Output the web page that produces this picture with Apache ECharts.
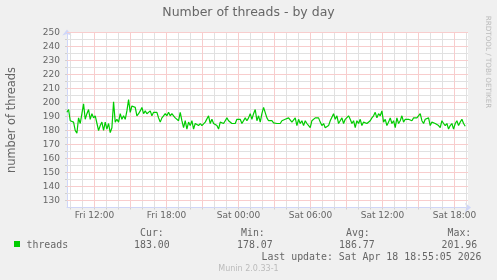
<!DOCTYPE html>
<html><head><meta charset="utf-8">
<script src="https://cdn.jsdelivr.net/npm/echarts@6/dist/echarts.min.js"></script>
<style>html,body{margin:0;padding:0;background:#F0F0F0;}#c{width:497px;height:280px;}</style>
</head><body><div id="c"></div>
<script>
// ---- data ----
const chartTitle = 'Number of threads - by day';
const yAxisName = 'number of threads';
const seriesName = 'threads';
const startMinute = 582;          // Fri 09:42 (minutes since Fri 00:00)
const stepMinutes = 25 / 3;       // spacing of the readings
const axisStartMinute = 582.5;    // left edge of the day graph
const spanMinutes = 2005;         // width of the day graph
const threads = [
  193,195,187,188,186,180,178,189,185,192,
  199,188,192,195,188,192,189,190.5,190.5,180,
  183.5,186,180,186,181,185,178.5,182,200.5,186,
  188,186,192,188,190.5,188,194,202,193,197.5,
  196.5,196.5,190.5,192,194,196.5,192,194,192,193,
  194,190.5,193,192,193,189,186,189,190.5,192,
  190.5,193,190.5,192,190.5,189,188,187,193,187,
  182,187,181,186,183.5,187,181,185,186,183.5,
  185,183.5,183.5,186,187,190.5,185,188,185,186,
  183.5,181,186,185,185,187,189,187,188,185,
  186,185,188,189,188,185,186,189,187,189,
  192,188,192,195,187,190.5,186,192,196.5,197.5,
  189,187,186,187,185.5,186,185,186,185,187,
  186,188,187,189,188,186,185,189,183.5,188,
  185,187,183.5,187,185,186,182,187,186,189,
  188,189,186,183.5,185,182,181,183.5,187,186,
  192,188,190.5,185,187,189,185,188,189,190.5,
  188,185,187,182,187,185,188,183.5,186,187,
  185,186,187,189,190.5,193,189,192,190.5,194,
  186,188,183.5,186,189,185,187,182,189,185,
  187,190.5,186,188,189,188,189,187,189,188,
  189,188,192,187,185,188,187,189,183.5,186,
  187,185,186,183.5,182,187,185,183.5,185,181,
  183.5,185,181,185,187,183.5,186,188,185,183
];
const yMin = 125, yMax = 250;
const yLabelTicks = [130,140,150,160,170,180,190,200,210,220,230,240,250];
const yMinorTicks = [135,145,155,165,175,185,195,205,215,225,235,245];
const xLabelTicks = ['Fri 12:00','Fri 18:00','Sat 00:00','Sat 06:00','Sat 12:00','Sat 18:00'];
const legendHeads = ['Cur:','Min:','Avg:','Max:'];
const legendValues = ['183.00','178.07','186.77','201.96'];
const lastUpdate = 'Last update: Sat Apr 18 18:55:05 2026';
const footer = 'Munin 2.0.33-1';
const watermark = 'RRDTOOL / TOBI OETIKER';

// ---- build ----
const dayIdx = {Fri:0, Sat:1};
function parseTick(s){ const [d,hm]=s.split(' '); const [h,m]=hm.split(':').map(Number); return dayIdx[d]*1440+h*60+m; }
const xMin = axisStartMinute, xMax = axisStartMinute + spanMinutes;
const hourTicks = [];
for (let m = Math.ceil(xMin/60)*60; m <= xMax; m += 60) hourTicks.push(m);
const xMinor = hourTicks.filter(m => m % 180 !== 0);
const xMajor = hourTicks.filter(m => m % 180 === 0);
const xLabelVals = xLabelTicks.map(parseTick);
const seriesData = threads.map((v,i) => [startMinute + i*stepMinutes, v]);

const GRID = '#E1E1E1';
const MGRID = '#F8CDCD';
const AXIS = '#CFD6F8';
const FONT = '#666666';
const SANS = 'DejaVu Sans';
const MONO = 'DejaVu Sans Mono';

const minorLines = [], majorLines = [];
xMinor.forEach(m => minorLines.push({xAxis:m}));
yMinorTicks.forEach(v => minorLines.push({yAxis:v}));
xMajor.forEach(m => majorLines.push({xAxis:m}));
yLabelTicks.forEach(v => majorLines.push({yAxis:v}));

const baseX = {type:'value', min:xMin, max:xMax, position:'bottom', gridIndex:0};
const baseY = {type:'value', min:yMin, max:yMax, position:'left', gridIndex:0};

const chart = echarts.init(document.getElementById('c'), null, {renderer:'canvas'});
const legendCols = [140, 241, 346, 447.5];
const valueCols = [134, 237, 339, 441.5];
const graphics = [
  {type:'text', left:'center', top:6, style:{text:chartTitle, font:'12.5px "'+SANS+'"', fill:FONT}},
  {type:'text', x:12, y:120, rotation:Math.PI/2, style:{text:yAxisName, font:'11.4px "'+SANS+'"', fill:FONT, align:'center', verticalAlign:'middle'}},
  {type:'text', x:488, y:62, rotation:-Math.PI/2, style:{text:watermark, font:'7.2px "'+SANS+'"', fill:'#bbbbbb', align:'center', verticalAlign:'middle'}},
  {type:'rect', shape:{x:14, y:241, width:6, height:6}, style:{fill:'#00CC00'}},
  {type:'text', x:26.5, y:245, style:{text:seriesName, font:'9.9px "'+MONO+'"', fill:FONT, verticalAlign:'middle'}},
  {type:'text', x:261.5, y:257.5, style:{text:lastUpdate, font:'9.9px "'+MONO+'"', fill:FONT, verticalAlign:'middle'}},
  {type:'text', x:248.5, y:269, style:{text:footer, font:'8px "'+SANS+'"', fill:'#bbbbbb', align:'center', verticalAlign:'middle'}}
];
legendHeads.forEach((h,i)=>graphics.push({type:'text', x:legendCols[i], y:233.5, style:{text:h, font:'9.9px "'+MONO+'"', fill:FONT, verticalAlign:'middle'}}));
legendValues.forEach((v,i)=>graphics.push({type:'text', x:valueCols[i], y:245, style:{text:v, font:'9.9px "'+MONO+'"', fill:FONT, verticalAlign:'middle'}}));

const markCommon = {silent:true, symbol:['none','none'], label:{show:false}, animation:false, emphasis:{disabled:true}};

chart.setOption({
  backgroundColor:'#F0F0F0',
  animation:false,
  grid:{left:67, top:32.5, width:401, height:175, show:true, backgroundColor:'#FFFFFF', borderWidth:0},
  xAxis:[
    Object.assign({}, baseX, {
      axisLine:{show:true, lineStyle:{color:AXIS, width:1}, symbol:['none','arrow'], symbolSize:[7,6], symbolOffset:[0,3]},
      axisTick:{show:true, customValues:hourTicks, length:2, lineStyle:{color:'#D0D0D0'}},
      axisLabel:{show:true, customValues:xLabelVals, margin:4, color:FONT, fontSize:9, fontFamily:SANS,
        formatter:(v)=>{ const i = xLabelVals.indexOf(v); return i>=0 ? xLabelTicks[i] : ''; }},
      splitLine:{show:false}
    })
  ],
  yAxis:[
    Object.assign({}, baseY, {
      axisLine:{show:true, lineStyle:{color:AXIS, width:1}, symbol:['none','arrow'], symbolSize:[7,6], symbolOffset:[0,3]},
      axisTick:{show:true, customValues:yLabelTicks.concat(yMinorTicks), length:2, lineStyle:{color:'#D0D0D0'}},
      axisLabel:{show:true, customValues:yLabelTicks, margin:7, color:FONT, fontSize:9, fontFamily:SANS},
      splitLine:{show:false}
    })
  ],
  series:[
    {
      name:'minor grid', type:'line', data:[], z:1, silent:true, symbol:'none',
      markLine:Object.assign({}, markCommon, {lineStyle:{color:GRID, width:1, type:'solid'}, data:minorLines})
    },
    {
      name:'major grid', type:'line', data:[], z:2, silent:true, symbol:'none',
      markLine:Object.assign({}, markCommon, {lineStyle:{color:MGRID, width:1, type:'solid'}, data:majorLines})
    },
    {
      name:seriesName, type:'line', data:seriesData,
      showSymbol:false, symbol:'none', lineStyle:{color:'#00CC00', width:1.2}, itemStyle:{color:'#00CC00'}, z:5
    }
  ],
  graphic:graphics
});
</script></body></html>
